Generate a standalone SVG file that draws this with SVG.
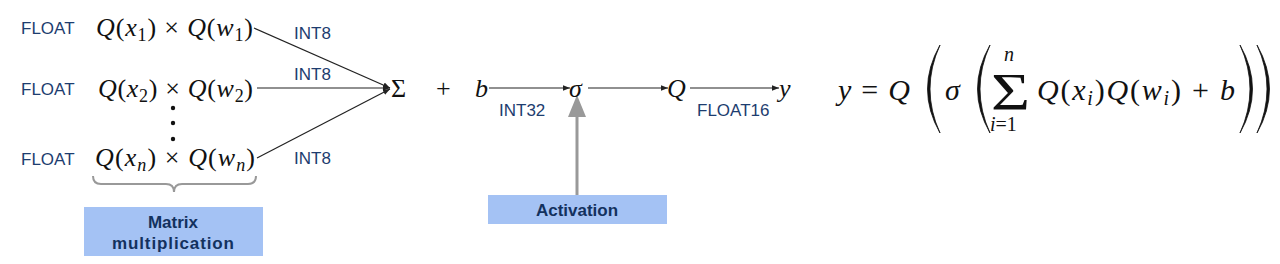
<svg xmlns="http://www.w3.org/2000/svg" width="1280" height="264" viewBox="0 0 1280 264">
<defs>
<style>
.lbl{font-family:"Liberation Sans",Arial,sans-serif;font-size:17px;fill:#1d3d6f}
.m{font-family:"Liberation Serif","Times New Roman",serif;font-size:26px;fill:#111}
.f{font-size:30px}
.i{font-style:italic}
.s{font-size:18px}
.box{fill:#a4c2f4}
.bt{font-family:"Liberation Sans",Arial,sans-serif;font-size:17px;font-weight:bold;fill:#13315e;text-anchor:middle}
.ln{stroke:#222;stroke-width:1.2;fill:none}
.par{fill:#111;stroke:#111;stroke-width:0.8}
</style>
<marker id="ah" viewBox="0 0 10 10" refX="10" refY="5" markerWidth="7" markerHeight="7" orient="auto" markerUnits="userSpaceOnUse">
<path d="M0,1 L10,5 L0,9 Z" fill="#222"/>
</marker>
</defs>

<g id="connectors">
<line class="ln" x1="254" y1="28" x2="390" y2="88" marker-end="url(#ah)"/>
<line class="ln" x1="257" y1="88" x2="390" y2="88" marker-end="url(#ah)"/>
<line class="ln" x1="257" y1="158" x2="390" y2="89" marker-end="url(#ah)"/>
<line class="ln" x1="489" y1="88" x2="570" y2="88" marker-end="url(#ah)"/>
<line class="ln" x1="588" y1="88" x2="668" y2="88" marker-end="url(#ah)"/>
<line class="ln" x1="690" y1="88" x2="779" y2="88" marker-end="url(#ah)"/>
<line x1="577" y1="195" x2="577" y2="116" stroke="#999" stroke-width="3"/>
<path d="M568,117 L577,95 L586,117 Z" fill="#999"/>
<path d="M93,176 Q93,184 101,184 L166,184 Q174,184 174,192 Q174,184 182,184 L248,184 Q256,184 256,176" fill="none" stroke="#999" stroke-width="2"/>
</g>

<g id="row1">
<text class="lbl" x="21" y="34">FLOAT</text>
<text class="m" x="96" y="36" textLength="157" lengthAdjust="spacing"><tspan class="i">Q</tspan>(<tspan class="i">x</tspan><tspan class="s" dy="5">1</tspan><tspan dy="-5">) × </tspan><tspan class="i">Q</tspan>(<tspan class="i">w</tspan><tspan class="s" dy="5">1</tspan><tspan dy="-5">)</tspan></text>
</g>
<g id="row2">
<text class="lbl" x="21" y="95">FLOAT</text>
<text class="m" x="98" y="97" textLength="155" lengthAdjust="spacing"><tspan class="i">Q</tspan>(<tspan class="i">x</tspan><tspan class="s" dy="5">2</tspan><tspan dy="-5">) × </tspan><tspan class="i">Q</tspan>(<tspan class="i">w</tspan><tspan class="s" dy="5">2</tspan><tspan dy="-5">)</tspan></text>
</g>
<g id="dots">
<circle cx="173" cy="108" r="2.2" fill="#111"/>
<circle cx="173" cy="123" r="2.2" fill="#111"/>
<circle cx="173" cy="139" r="2.2" fill="#111"/>
</g>
<g id="rown">
<text class="lbl" x="21" y="165">FLOAT</text>
<text class="m" x="95" y="166" textLength="160" lengthAdjust="spacing"><tspan class="i">Q</tspan>(<tspan class="i">x</tspan><tspan class="s i" dy="5">n</tspan><tspan dy="-5">) × </tspan><tspan class="i">Q</tspan>(<tspan class="i">w</tspan><tspan class="s i" dy="5">n</tspan><tspan dy="-5">)</tspan></text>
</g>
<g id="int8labels">
<text class="lbl" x="294" y="39">INT8</text>
<text class="lbl" x="294" y="80">INT8</text>
<text class="lbl" x="294" y="164">INT8</text>
</g>

<g id="sum"><text class="m" x="391" y="97">Σ</text></g>
<g id="plus"><text class="m" x="436" y="97">+</text></g>
<g id="bias"><text class="m i" x="475" y="97">b</text>
<text class="lbl" x="499" y="116">INT32</text></g>
<g id="sigma"><text class="m i" x="569" y="97">σ</text></g>
<g id="quant"><text class="m i" x="667" y="97">Q</text>
<text class="lbl" x="697" y="116">FLOAT16</text></g>
<g id="out"><text class="m i" x="779" y="97">y</text></g>

<g id="activation">
<rect class="box" x="488" y="195" width="179" height="29"/>
<text class="bt" x="577" y="216">Activation</text>
</g>
<g id="matmul">
<rect class="box" x="84" y="207" width="179" height="49"/>
<text class="bt" x="173" y="228">Matrix</text>
<text class="bt" x="173" y="249" textLength="122" lengthAdjust="spacing">multiplication</text>
</g>

<g id="formula">
<text class="m f" x="838" y="100" textLength="72" lengthAdjust="spacing"><tspan class="i">y</tspan> = <tspan class="i">Q</tspan></text>
<path class="par" d="M940,45 Q915,89 940,133 Q920,89 940,45 Z"/>
<text class="m f i" x="945" y="100">σ</text>
<path class="par" d="M990,45 Q965,89 990,133 Q970,89 990,45 Z"/>
<text class="m" x="991" y="110" style="font-size:52px" textLength="39" lengthAdjust="spacingAndGlyphs">Σ</text>
<text class="m i" x="1004" y="61" style="font-size:20px">n</text>
<text class="m" x="990" y="131" style="font-size:20px"><tspan class="i">i</tspan>=1</text>
<text class="m f" x="1037" y="100" textLength="198" lengthAdjust="spacing"><tspan class="i">Q</tspan>(<tspan class="i">x</tspan><tspan class="i" style="font-size:20px" dy="5">i</tspan><tspan dy="-5">)</tspan><tspan class="i">Q</tspan>(<tspan class="i">w</tspan><tspan class="i" style="font-size:20px" dy="5">i</tspan><tspan dy="-5">) + </tspan><tspan class="i">b</tspan></text>
<path class="par" d="M1240,45 Q1265,89 1240,133 Q1260,89 1240,45 Z"/>
<path class="par" d="M1257,45 Q1282,89 1257,133 Q1277,89 1257,45 Z"/>
</g>
</svg>
